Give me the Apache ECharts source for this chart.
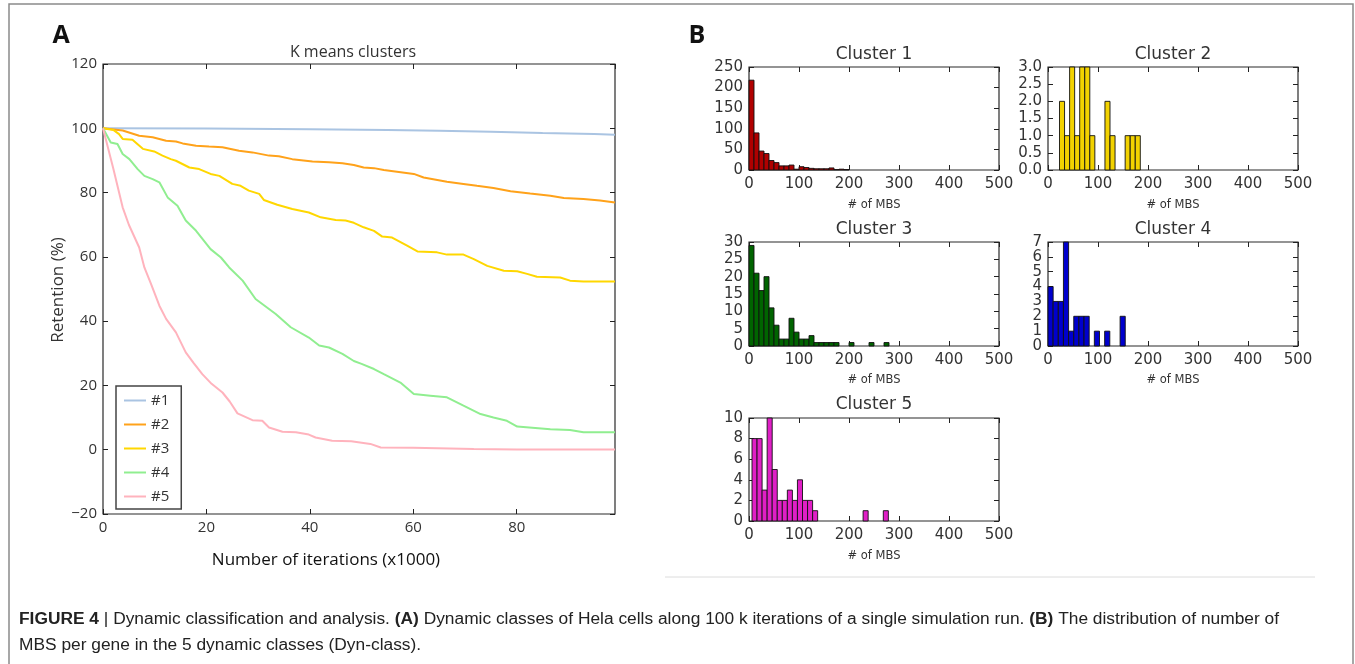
<!DOCTYPE html>
<html>
<head>
<meta charset="utf-8">
<script src="https://cdn.jsdelivr.net/npm/echarts@6/dist/echarts.min.js"></script>
<style>
html,body{margin:0;padding:0;background:#fff;}
#chart{width:1355px;height:664px;}
</style>
</head>
<body>
<div id="chart"></div>
<script>
// ---------------- DATA ----------------
// Panel A: retention (%) vs number of iterations (x1000)
const seriesNames = ['#1', '#2', '#3', '#4', '#5'];
const cl1X = [0, 20, 40, 55, 65, 75, 85, 95, 99];
const cl1Y = [100, 99.9, 99.7, 99.5, 99.2, 98.9, 98.5, 98.2, 98.0];
const cl2X = [0, 3.8, 7, 9.6, 12.2, 14.1, 15.4, 18, 20.5, 23.1, 26.3, 28.9, 32.1, 34, 36.6, 40.5, 43.7, 46.3, 48.5, 50.4, 52.4, 54.3, 60.1, 62, 66.5, 69.7, 72.3, 75.5, 78.8, 82.6, 86.5, 89.1, 92.9, 96.1, 99];
const cl2Y = [100, 99.3, 97.7, 97.2, 96.1, 95.9, 95.3, 94.6, 94.3, 94.1, 93, 92.5, 91.5, 91.3, 90.4, 89.7, 89.4, 89.1, 88.6, 87.8, 87.6, 87, 85.8, 84.7, 83.4, 82.7, 82.1, 81.4, 80.4, 79.7, 79, 78.3, 78, 77.5, 76.9];
const cl3X = [0, 2, 3.1, 3.8, 5.7, 7.7, 9.9, 11.5, 13.1, 14.1, 16.7, 18.6, 20.8, 22.5, 25, 26.6, 28.2, 30.2, 31.1, 33.7, 36.6, 39.8, 42.1, 45, 46.9, 48.5, 50.4, 52.4, 54, 55.9, 58.8, 60.8, 64.6, 66.5, 69.7, 71.7, 74.3, 77.5, 80.1, 82, 83.9, 88.4, 90.3, 92.9, 99];
const cl3Y = [100, 99.5, 98.2, 96.7, 96.4, 93.6, 92.8, 91.5, 90.4, 89.9, 87.8, 87.3, 85.8, 85.2, 82.7, 82.1, 80.6, 79.6, 77.7, 76.2, 74.9, 73.8, 72.3, 71.5, 71.3, 70.6, 69.2, 68.1, 66.3, 66.0, 63.5, 61.7, 61.4, 60.7, 60.7, 59.3, 57.2, 55.7, 55.5, 54.7, 53.8, 53.6, 52.6, 52.3, 52.3];
const cl4X = [0, 1.5, 2.8, 3.8, 5.1, 6.7, 8, 9.6, 10.9, 12.5, 14.4, 16, 18, 20.8, 22.8, 24.4, 27, 29.5, 33.4, 36.3, 39.8, 41.8, 43.7, 46.3, 48.5, 50, 52.4, 54.3, 57.5, 60.1, 63.3, 66.5, 69.7, 73, 75.5, 78.1, 80.1, 86.5, 90.3, 92.9, 99];
const cl4Y = [100, 95.6, 95.1, 92, 90.4, 87.3, 85.2, 84.2, 83.2, 78.5, 75.9, 71.3, 68.1, 62.4, 59.8, 56.7, 52.6, 46.9, 42.2, 38.1, 34.9, 32.4, 31.8, 29.8, 27.6, 26.7, 25.1, 23.5, 20.9, 17.3, 16.8, 16.3, 13.7, 11.1, 10.0, 9.0, 7.2, 6.4, 6.1, 5.4, 5.4];
const cl5X = [0, 1, 2, 3.8, 5, 7, 8, 9.3, 10.9, 12.2, 14.1, 16, 17.5, 19.2, 21, 23.1, 24.5, 26, 28.9, 30.8, 32.1, 34.7, 37.3, 39.8, 41.1, 44.3, 48, 51.7, 53.7, 60, 71.7, 80, 90, 99];
const cl5Y = [100, 93.7, 87.4, 75.4, 70, 62.9, 56.7, 51.5, 44.8, 40.7, 36.5, 30.3, 27, 23.5, 20.5, 17.8, 15, 11.3, 9.2, 9.0, 6.9, 5.6, 5.4, 4.7, 3.8, 2.8, 2.6, 1.8, 0.7, 0.6, 0.2, 0.1, 0.1, 0.1];

// Panel B: histograms of # of MBS per gene (bin start, bin width, counts)
const clusterTitles = ['Cluster 1', 'Cluster 2', 'Cluster 3', 'Cluster 4', 'Cluster 5'];
const histStart = [0, 23, 0, 0, 6];
const histBinWidth = [10, 10.1, 10, 10.3, 10.1];
const hist1Counts = [218, 90, 46, 40, 23, 18, 10, 10, 12, 2, 8, 6, 4, 3, 3, 3, 5, 1, 2, 1];
const hist2Counts = [2, 1, 3, 1, 3, 3, 1, 0, 0, 2, 1, 0, 0, 1, 1, 1];
const hist3Counts = [29, 21, 16, 20, 11, 6, 2, 2, 8, 4, 2, 2, 3, 1, 1, 1, 1, 1, 0, 0, 1, 0, 0, 0, 1, 0, 0, 1];
const hist4Counts = [4, 3, 3, 7, 1, 2, 2, 2, 0, 1, 0, 1, 0, 0, 2];
const hist5Counts = [8, 8, 3, 10, 5, 2, 2, 3, 2, 4, 2, 2, 1, 0, 0, 0, 0, 0, 0, 0, 0, 0, 1, 0, 0, 0, 1];
const histYMax = [250, 3, 30, 7, 10];
const histYStep = [50, 0.5, 5, 1, 2];

// ---------------- STYLE / LAYOUT ----------------
const lineColors = ['#aac4e2', '#ffa21a', '#ffd700', '#90ee90', '#ffb3bd'];
const histColors = ['#b00000', '#f2d200', '#006400', '#0000cd', '#e01fc6'];
const TXT = '#333';
const FA = '"Open Sans", "DejaVu Sans", sans-serif';
const FB = '"DejaVu Sans", sans-serif';

const grids = [
  {left: 103, top: 64, width: 512, height: 450},
  {left: 749, top: 67, width: 250, height: 103},
  {left: 1048, top: 67, width: 250, height: 103},
  {left: 749, top: 242, width: 250, height: 104},
  {left: 1048, top: 242, width: 250, height: 104},
  {left: 749, top: 418, width: 250, height: 103}
];

const fmtMinus = v => (v < 0 ? '\u2212' + Math.abs(v) : String(v));

const xAxes = [], yAxes = [];
function addAxes(gi, xmin, xmax, xint, ymin, ymax, yint, font, fsize, yFmt, showMaxX) {
  const tick = {show: true, inside: true, length: 5, lineStyle: {color: '#222', width: 1}};
  const line = {show: false, onZero: false};
  xAxes.push({type: 'value', gridIndex: gi, min: xmin, max: xmax, interval: xint, position: 'bottom',
    splitLine: {show: false}, axisLine: line, axisTick: tick,
    axisLabel: {color: TXT, fontFamily: font, fontSize: fsize, margin: gi === 0 ? 6 : 7, showMaxLabel: showMaxX, showMinLabel: true, formatter: fmtMinus}});
  xAxes.push({type: 'value', gridIndex: gi, min: xmin, max: xmax, interval: xint, position: 'top',
    splitLine: {show: false}, axisLine: line, axisTick: tick, axisLabel: {show: false}});
  yAxes.push({type: 'value', gridIndex: gi, min: ymin, max: ymax, interval: yint, position: 'left',
    splitLine: {show: false}, axisLine: line, axisTick: tick,
    axisLabel: {color: TXT, fontFamily: font, fontSize: fsize, margin: 6, formatter: yFmt}});
  yAxes.push({type: 'value', gridIndex: gi, min: ymin, max: ymax, interval: yint, position: 'right',
    splitLine: {show: false}, axisLine: line, axisTick: tick, axisLabel: {show: false}});
}

addAxes(0, 0, 99, 20, -20, 120, 20, FA, 15, fmtMinus, false);
for (let i = 0; i < 5; i++) {
  const f = histYStep[i] < 1 ? (v => v.toFixed(1)) : (v => String(v));
  addAxes(i + 1, 0, 500, 100, 0, histYMax[i], histYStep[i], FB, 15, f, true);
}

const lineXs = [cl1X, cl2X, cl3X, cl4X, cl5X];
const lineYs = [cl1Y, cl2Y, cl3Y, cl4Y, cl5Y];
const series = [];
for (let i = 0; i < 5; i++) {
  series.push({
    type: 'line', name: seriesNames[i], xAxisIndex: 0, yAxisIndex: 0,
    data: lineXs[i].map((x, k) => [x, lineYs[i][k]]),
    symbol: 'none', showSymbol: false, animation: false,
    lineStyle: {color: lineColors[i], width: 2}, itemStyle: {color: lineColors[i]}
  });
}

const histCounts = [hist1Counts, hist2Counts, hist3Counts, hist4Counts, hist5Counts];
for (let i = 0; i < 5; i++) {
  const data = [];
  histCounts[i].forEach((c, k) => {
    if (c > 0) {
      const s = histStart[i] + k * histBinWidth[i];
      data.push([s, s + histBinWidth[i], c]);
    }
  });
  const col = histColors[i];
  series.push({
    type: 'custom', xAxisIndex: 2 * (i + 1), yAxisIndex: 2 * (i + 1), animation: false,
    encode: {x: [0, 1], y: 2},
    data: data,
    renderItem: function (params, api) {
      const p0 = api.coord([api.value(0), api.value(2)]);
      const p1 = api.coord([api.value(1), 0]);
      return {type: 'rect', shape: {x: p0[0], y: p0[1], width: p1[0] - p0[0], height: p1[1] - p0[1]},
        style: {fill: col, stroke: '#111', lineWidth: 0.9}};
    }
  });
}

// ---------------- TEXT ----------------
const graphics = [];
function txt(x, y, text, font, size, opts) {
  graphics.push(Object.assign({type: 'text', x: x, y: y, z: 100,
    style: Object.assign({text: text, fontFamily: font, fontSize: size, fill: TXT, align: 'center', verticalAlign: 'middle'}, (opts && opts.style) || {})},
    (opts && opts.el) || {}));
}
// outer frame & separator
graphics.push({type: 'rect', z: 1, shape: {x: 9, y: 4, width: 1344, height: 700}, style: {fill: 'none', stroke: '#8a8a8a', lineWidth: 1.5}});
graphics.push({type: 'line', z: 1, shape: {x1: 665, y1: 577, x2: 1315, y2: 577}, style: {stroke: '#dcdcdc', lineWidth: 1}});

txt(61, 36, 'A', FA, 25, {style: {fontWeight: 'bold', fill: '#111'}});
txt(697, 36, 'B', FA, 25, {style: {fontWeight: 'bold', fill: '#111'}});
txt(353, 52, 'K means clusters', FA, 16);
txt(326, 560, 'Number of iterations (x1000)', FA, 17, {style: {fill: '#111'}});
txt(58, 290, 'Retention (%)', FA, 17, {el: {rotation: Math.PI / 2}});

const titlePos = [[874, 55], [1173, 55], [874, 230], [1173, 230], [874, 405]];
const xnamePos = [[874, 205], [1173, 205], [874, 380], [1173, 380], [874, 556]];
for (let i = 0; i < 5; i++) {
  txt(titlePos[i][0], titlePos[i][1], clusterTitles[i], FB, 17);
  txt(xnamePos[i][0], xnamePos[i][1], '# of MBS', FB, 11.5);
}

// caption
const capFont = '"Liberation Sans", Arial, sans-serif';
const capSize = 16;
const cap1 = [['b', 'FIGURE 4 '], ['n', '| Dynamic classification and analysis. '], ['b', '(A)'],
  ['n', ' Dynamic classes of Hela cells along 100 k iterations of a single simulation run. '], ['b', '(B)'],
  ['n', ' The distribution of number of']];
const cap2 = 'MBS per gene in the 5 dynamic classes (Dyn-class).';
const mctx = document.createElement('canvas').getContext('2d');
let natural = 0;
cap1.forEach(p => { mctx.font = (p[0] === 'b' ? 'bold ' : '') + capSize + 'px ' + capFont; natural += mctx.measureText(p[1]).width; });
const capScale = natural > 0 ? 1260 / natural : 1;
const richCap = cap1.map(p => '{' + p[0] + '|' + p[1] + '}').join('');
graphics.push({type: 'text', x: 19, y: 620, scaleX: capScale, z: 100,
  style: {text: richCap, align: 'left', verticalAlign: 'middle', fill: '#222', fontFamily: capFont, fontSize: capSize,
    rich: {b: {fontWeight: 'bold', fontFamily: capFont, fontSize: capSize, fill: '#222'}, n: {fontFamily: capFont, fontSize: capSize, fill: '#222'}}}});
graphics.push({type: 'text', x: 19, y: 646, scaleX: capScale, z: 100,
  style: {text: cap2, align: 'left', verticalAlign: 'middle', fill: '#222', fontFamily: capFont, fontSize: capSize}});

// ---------------- CHART ----------------
const chart = echarts.init(document.getElementById('chart'), null, {renderer: 'canvas'});
chart.setOption({
  animation: false,
  backgroundColor: '#fff',
  grid: grids.map(g => Object.assign({show: true, borderColor: '#2a2a2a', borderWidth: 1.2, backgroundColor: 'transparent', containLabel: false}, g)),
  xAxis: xAxes,
  yAxis: yAxes,
  legend: {
    data: seriesNames, left: 116, top: 386, orient: 'vertical',
    icon: 'rect', itemWidth: 22, itemHeight: 2, itemGap: 9, padding: [7, 12, 5, 8],
    borderColor: '#444', borderWidth: 1.5, backgroundColor: '#fff',
    textStyle: {fontFamily: FA, fontSize: 15, color: TXT, lineHeight: 14}
  },
  series: series,
  graphic: graphics
});
</script>
</body>
</html>
